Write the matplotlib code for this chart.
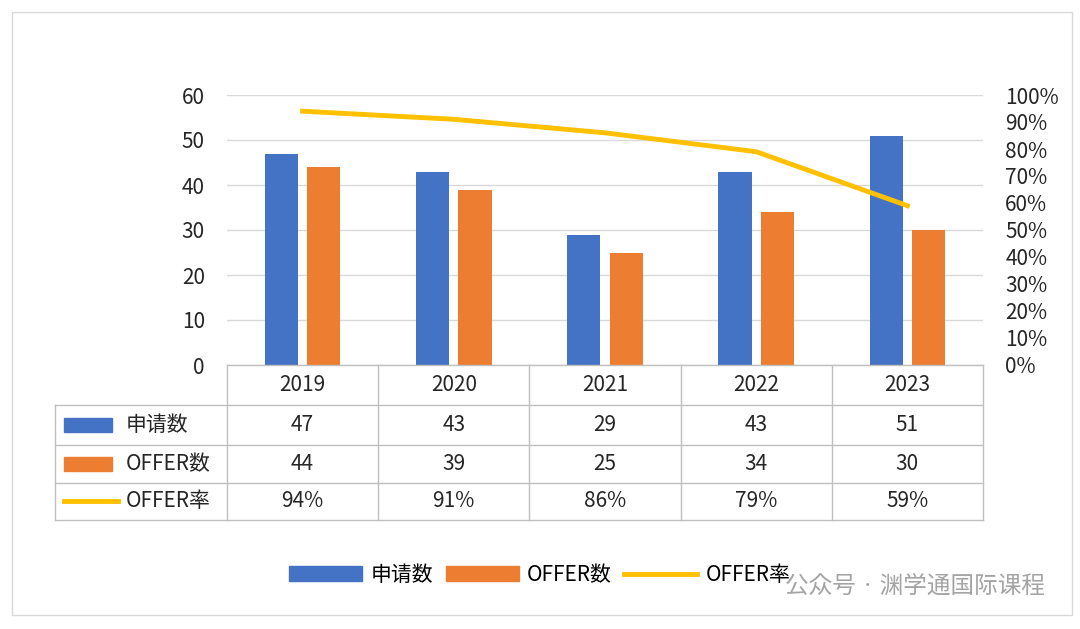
import matplotlib.pyplot as plt
from matplotlib import font_manager
from matplotlib.lines import Line2D
from matplotlib.patches import Rectangle
import numpy as np

names = {f.name for f in font_manager.fontManager.ttflist}
cjk = [n for n in ["Noto Sans CJK SC", "Noto Sans CJK JP", "Noto Sans CJK TC",
                   "Noto Sans CJK KR", "Noto Sans SC", "Noto Sans CJK"] if n in names]
cjk += [n for n in sorted(names) if "CJK" in n and n not in cjk]
plt.rcParams["font.family"] = cjk + ["DejaVu Sans"]

years = ["2019", "2020", "2021", "2022", "2023"]
applications = [47, 43, 29, 43, 51]
offers = [44, 39, 25, 34, 30]
offer_rate = [0.94, 0.91, 0.86, 0.79, 0.59]

blue = "#4472C4"
orange = "#ED7D31"
gold = "#FFC000"
grid_c = "#D9D9D9"
txt = "#262626"
fs = 15

W, H = 1080, 629
fig = plt.figure(figsize=(W / 100, H / 100), dpi=100)

def box(x0, y0, x1, y1):
    return [x0 / W, 1 - y1 / H, (x1 - x0) / W, (y1 - y0) / H]

ax = fig.add_axes(box(227, 95, 983, 365))
x = np.arange(len(years))
ax.bar(x - 0.14, applications, width=0.22, color=blue, zorder=3)
ax.bar(x + 0.14, offers, width=0.22, color=orange, zorder=3)
ax.set_xlim(-0.5, 4.5)
ax.set_ylim(0, 60)
ax.set_yticks(range(0, 61, 10))
ax.grid(axis="y", color=grid_c, lw=1, zorder=0)
ax.set_xticks([])
for s in ax.spines.values():
    s.set_visible(False)
ax.tick_params(axis="y", length=0, labelsize=fs, labelcolor=txt, pad=16)

ax2 = ax.twinx()
ax2.plot(x, offer_rate, color=gold, lw=3.5, zorder=4)
ax2.set_ylim(0, 1)
ax2.set_yticks(np.arange(0, 1.01, 0.1))
ax2.set_yticklabels([f"{int(round(v * 100))}%" for v in np.arange(0, 1.01, 0.1)])
for s in ax2.spines.values():
    s.set_visible(False)
ax2.tick_params(axis="y", length=0, labelsize=fs, labelcolor=txt, pad=16)

# data table
tab = fig.add_axes([0, 0, 1, 1], facecolor="none")
tab.set_xlim(0, W)
tab.set_ylim(H, 0)
tab.axis("off")
lc = "#BFBFBF"
rows_y = [365, 405, 445, 483, 520]
col_x = [227 + i * 151.2 for i in range(6)]
tab.plot([227, 983], [365, 365], color=lc, lw=1)
for yy in rows_y[1:]:
    tab.plot([55, 983], [yy, yy], color=lc, lw=1)
for xx in col_x:
    tab.plot([xx, xx], [365, 520], color=lc, lw=1)
tab.plot([55, 55], [405, 520], color=lc, lw=1)

for i, yr in enumerate(years):
    cx = (col_x[i] + col_x[i + 1]) / 2
    tab.text(cx, 385, yr, ha="center", va="center", fontsize=fs, color=txt)
    tab.text(cx, 425, str(applications[i]), ha="center", va="center", fontsize=fs, color=txt)
    tab.text(cx, 464, str(offers[i]), ha="center", va="center", fontsize=fs, color=txt)
    tab.text(cx, 501, f"{int(round(offer_rate[i] * 100))}%", ha="center", va="center", fontsize=fs, color=txt)

labels = ["申请数", "OFFER数", "OFFER率"]
tab.add_patch(Rectangle((64, 418), 48, 14, color=blue))
tab.add_patch(Rectangle((64, 457), 48, 14, color=orange))
tab.plot([64, 118], [501, 501], color=gold, lw=3.5)
for yy, lab in zip([425, 464, 501], labels):
    tab.text(126, yy, lab, ha="left", va="center", fontsize=fs, color=txt)

# outer border
tab.add_patch(Rectangle((12, 12), 1060, 603, fill=False, ec="#D9D9D9", lw=1))

handles = [Rectangle((0, 0), 1, 1, color=blue), Rectangle((0, 0), 1, 1, color=orange),
           Line2D([], [], color=gold, lw=3.5)]
fig.legend(handles, labels, loc="center", bbox_to_anchor=(540 / W, 1 - 575 / H),
           ncol=3, frameon=False, fontsize=fs, handlelength=3.5, handletextpad=0.4,
           columnspacing=0.6)

tab.text(1045, 586, "公众号 · 渊学通国际课程", ha="right", va="center", fontsize=17,
         color="#9A9A9A", alpha=0.9)

fig.savefig("out.png", dpi=100, facecolor="white")
